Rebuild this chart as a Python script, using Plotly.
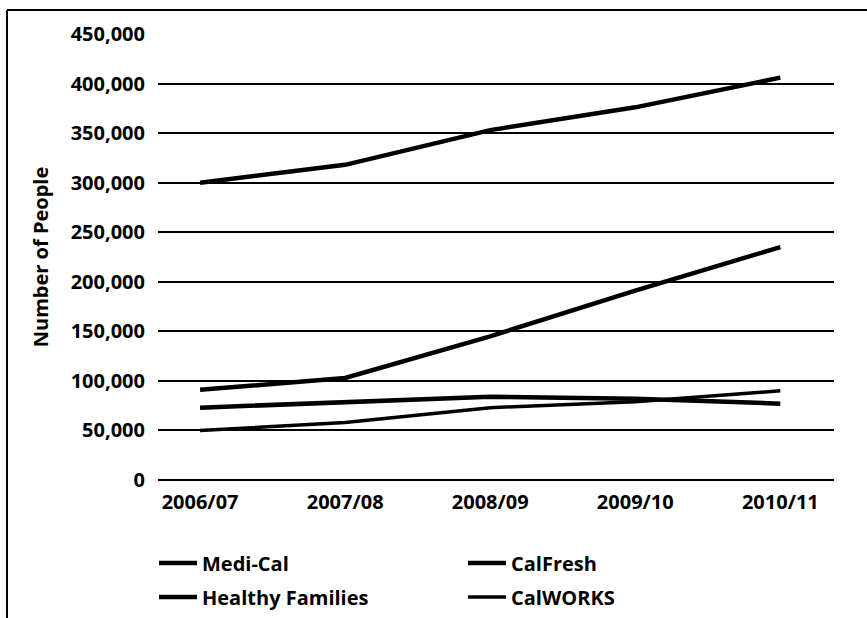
import plotly.graph_objects as go

# Program enrollment by fiscal year
years = ["2006/07", "2007/08", "2008/09", "2009/10", "2010/11"]
medi_cal = [300000, 318000, 353000, 376000, 406000]
cal_fresh = [91000, 103000, 145000, 191000, 235000]
healthy_families = [73000, 78000, 84000, 82000, 77000]
calworks = [50000, 58000, 73000, 79000, 90000]

W, H = 867, 618
ML, MR, MT, MB = 158, 33, 34, 138
PW, PH = W - ML - MR, H - MT - MB

FONT = dict(family="Open Sans, Arial, sans-serif", size=20, color="#000000")
BOLD = dict(FONT, weight="bold")

fig = go.Figure()

series = [
    ("Medi-Cal", medi_cal, 4.5, "legend"),
    ("CalFresh", cal_fresh, 4.5, "legend"),
    ("Healthy Families", healthy_families, 4.5, "legend2"),
    ("CalWORKS", calworks, 3.5, "legend2"),
]
for name, vals, w, lg in series:
    fig.add_trace(go.Scatter(
        x=years, y=vals, name=name, mode="lines",
        line=dict(color="#000000", width=w),
        legend=lg,
    ))

def px_x(px):
    return (px - ML) / PW

def px_y(py):
    return (H - MB - py) / PH

legend_common = dict(
    orientation="h", xanchor="left", yanchor="middle",
    entrywidth=256, entrywidthmode="pixels", itemwidth=38,
    font=BOLD, bgcolor="rgba(0,0,0,0)", borderwidth=0,
    traceorder="normal",
)

fig.update_layout(
    width=W, height=H,
    margin=dict(l=ML, r=MR, t=MT, b=MB, pad=0, autoexpand=False),
    paper_bgcolor="#ffffff", plot_bgcolor="#ffffff",
    font=BOLD,
    showlegend=True,
    legend=dict(legend_common, x=px_x(154), y=px_y(563)),
    legend2=dict(legend_common, x=px_x(154), y=px_y(597)),
    xaxis=dict(
        type="category", range=[-0.29, 4.37],
        showgrid=False, zeroline=False, showline=False,
        ticks="outside", ticklen=4, tickcolor="rgba(0,0,0,0)",
        tickfont=BOLD, automargin=False,
    ),
    yaxis=dict(
        range=[0, 450000], dtick=50000, tickformat=",d",
        showgrid=True, gridcolor="#000000", gridwidth=1.5,
        zeroline=True, zerolinecolor="#000000", zerolinewidth=1.5,
        showline=False,
        ticks="outside", ticklen=8, tickcolor="rgba(0,0,0,0)",
        tickfont=BOLD, automargin=False,
        title=dict(text="Number of People", font=BOLD, standoff=16),
    ),
    shapes=[
        dict(type="line", xref="paper", yref="paper",
             x0=px_x(7), y0=px_y(H + 30), x1=px_x(7), y1=px_y(10),
             line=dict(color="#000000", width=2)),
        dict(type="line", xref="paper", yref="paper",
             x0=px_x(7), y0=px_y(10), x1=px_x(W + 10), y1=px_y(10),
             line=dict(color="#000000", width=2)),
    ],
)

fig.write_html("out.html")
